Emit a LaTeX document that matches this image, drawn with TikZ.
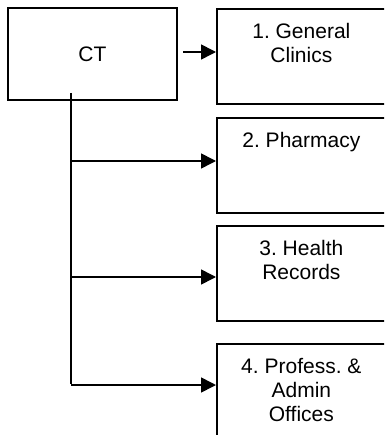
\documentclass[tikz,border=0pt]{standalone}
\usepackage{fontspec}
\setmainfont{Liberation Sans}
\frenchspacing
\usetikzlibrary{arrows.meta}
\begin{document}
\begin{tikzpicture}[x=1pt,y=-1pt,
  box/.style={draw=black,line width=1.7pt,minimum width=169pt,minimum height=95pt,inner sep=0pt,anchor=north west},
  lbl/.style={anchor=north,align=center,inner sep=0pt,yshift=-14.6pt,font=\fontsize{21}{24}\selectfont},
  link/.style={line width=1.6pt,-{Triangle[length=15pt,width=15pt]}},
  trunk/.style={line width=1.6pt}]
\useasboundingbox (0,0) rectangle (384,435);
\clip (0,0) rectangle (384,435);
% top-level unit
\node[box,minimum height=92pt] (ct) at (7,7) {};
\node[font=\fontsize{21}{24}\selectfont,inner sep=0pt] (ctl) at (ct.center) {CT};
% department boxes
\node[box] (b1) at (216,8) {};
\node[box] (b2) at (216,117) {};
\node[box] (b3) at (216,225) {};
\node[box] (b4) at (216,343) {};
\node[lbl] (t1) at (b1.north) {1. General\\Clinics};
\node[lbl] (t2) at (b2.north) {2. Pharmacy};
\node[lbl] (t3) at (b3.north) {3. Health\\Records};
\node[lbl] (t4) at (b4.north) {4. Profess. \&\\Admin\\Offices};
% connectors
\coordinate (s1) at (183,52);
\draw[link] (s1) -- (s1 -| b1.west);
\coordinate (top) at (71,93);
\coordinate (j2) at (71,161);
\coordinate (j3) at (71,277);
\coordinate (j4) at (71,385);
\draw[trunk] (top) -- ([yshift=0.8pt]j4);
\draw[link] (j2) -- (j2 -| b2.west);
\draw[link] (j3) -- (j3 -| b3.west);
\draw[link] (j4) -- (j4 -| b4.west);
\end{tikzpicture}
\end{document}
